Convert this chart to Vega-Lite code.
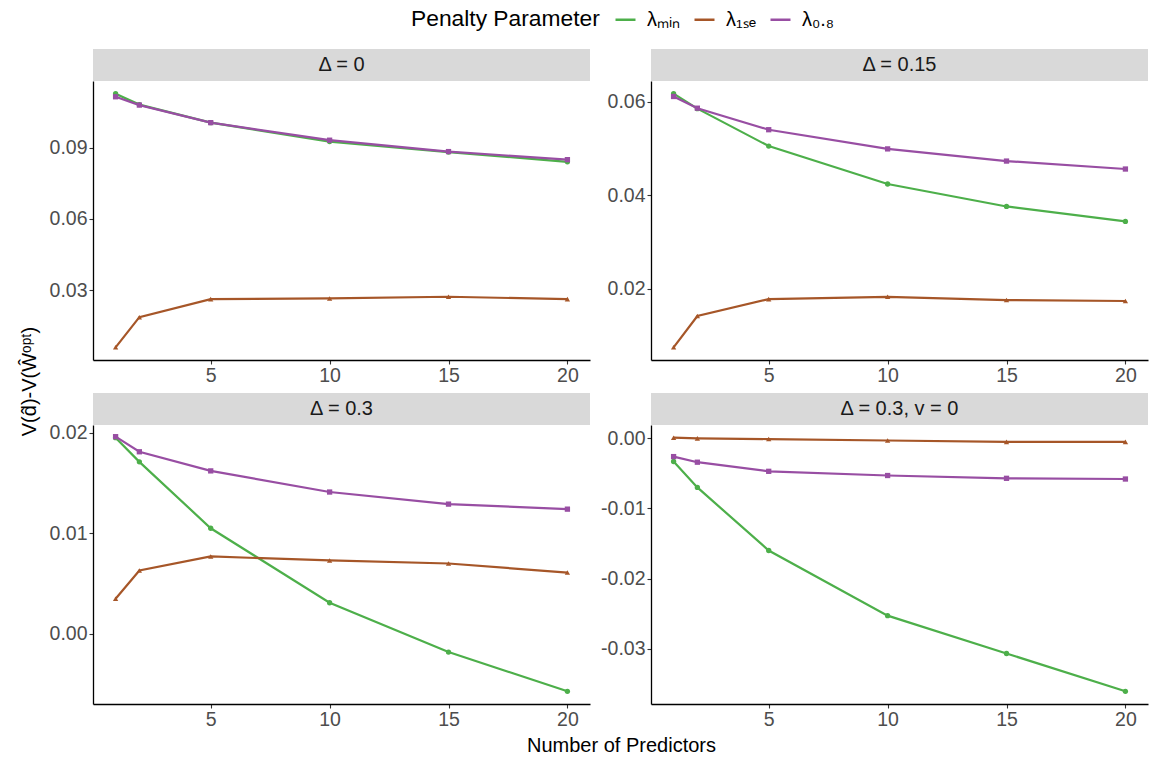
{
  "$schema": "https://vega.github.io/schema/vega-lite/v6.json",
  "padding": {"left": 20, "top": 8, "right": 2, "bottom": 2},
  "config": {
    "font": "Liberation Sans",
    "view": {"stroke": null},
    "axis": {"grid": false, "domainColor": "#000000", "domainWidth": 1.3, "tickColor": "#333333", "tickSize": 4, "tickWidth": 1.1, "labelColor": "#4D4D4D", "labelFontSize": 19.5, "labelPadding": 2, "titleColor": "#000000", "titleFontSize": 20, "titleFontWeight": "normal"},
    "legend": {"titleFontSize": 22.8, "titleFontWeight": "normal", "titleColor": "#000000", "titleLimit": 400, "titlePadding": 14, "labelFontSize": 20, "labelColor": "#000000", "labelOffset": 10, "columnPadding": 8, "symbolStrokeWidth": 2.5, "symbolSize": 400, "symbolType": "stroke"}
  },
  "title": {"text": "V(d̂)-V(Ŵᵒᵖᵗ)", "orient": "left", "anchor": "middle", "fontSize": 20, "fontWeight": "normal", "color": "#000000", "offset": 9},
  "datasets": {
    "d": [
      {"panel": "Δ = 0", "x": 1, "method": "λₘᵢₙ", "v": 0.1128},
      {"panel": "Δ = 0", "x": 2, "method": "λₘᵢₙ", "v": 0.1082},
      {"panel": "Δ = 0", "x": 5, "method": "λₘᵢₙ", "v": 0.1006},
      {"panel": "Δ = 0", "x": 10, "method": "λₘᵢₙ", "v": 0.0926},
      {"panel": "Δ = 0", "x": 15, "method": "λₘᵢₙ", "v": 0.0882},
      {"panel": "Δ = 0", "x": 20, "method": "λₘᵢₙ", "v": 0.0841},
      {"panel": "Δ = 0", "x": 1, "method": "λ₁ₛₑ", "v": 0.0059},
      {"panel": "Δ = 0", "x": 2, "method": "λ₁ₛₑ", "v": 0.0186},
      {"panel": "Δ = 0", "x": 5, "method": "λ₁ₛₑ", "v": 0.0262},
      {"panel": "Δ = 0", "x": 10, "method": "λ₁ₛₑ", "v": 0.0265},
      {"panel": "Δ = 0", "x": 15, "method": "λ₁ₛₑ", "v": 0.0272},
      {"panel": "Δ = 0", "x": 20, "method": "λ₁ₛₑ", "v": 0.0262},
      {"panel": "Δ = 0", "x": 1, "method": "λ₀.₈", "v": 0.1115},
      {"panel": "Δ = 0", "x": 2, "method": "λ₀.₈", "v": 0.1080},
      {"panel": "Δ = 0", "x": 5, "method": "λ₀.₈", "v": 0.1006},
      {"panel": "Δ = 0", "x": 10, "method": "λ₀.₈", "v": 0.0932},
      {"panel": "Δ = 0", "x": 15, "method": "λ₀.₈", "v": 0.0884},
      {"panel": "Δ = 0", "x": 20, "method": "λ₀.₈", "v": 0.0850},
      {"panel": "Δ = 0.15", "x": 1, "method": "λₘᵢₙ", "v": 0.0617},
      {"panel": "Δ = 0.15", "x": 2, "method": "λₘᵢₙ", "v": 0.0585},
      {"panel": "Δ = 0.15", "x": 5, "method": "λₘᵢₙ", "v": 0.0505},
      {"panel": "Δ = 0.15", "x": 10, "method": "λₘᵢₙ", "v": 0.0424},
      {"panel": "Δ = 0.15", "x": 15, "method": "λₘᵢₙ", "v": 0.0376},
      {"panel": "Δ = 0.15", "x": 20, "method": "λₘᵢₙ", "v": 0.0344},
      {"panel": "Δ = 0.15", "x": 1, "method": "λ₁ₛₑ", "v": 0.0075},
      {"panel": "Δ = 0.15", "x": 2, "method": "λ₁ₛₑ", "v": 0.0142},
      {"panel": "Δ = 0.15", "x": 5, "method": "λ₁ₛₑ", "v": 0.0178},
      {"panel": "Δ = 0.15", "x": 10, "method": "λ₁ₛₑ", "v": 0.0183},
      {"panel": "Δ = 0.15", "x": 15, "method": "λ₁ₛₑ", "v": 0.0176},
      {"panel": "Δ = 0.15", "x": 20, "method": "λ₁ₛₑ", "v": 0.0174},
      {"panel": "Δ = 0.15", "x": 1, "method": "λ₀.₈", "v": 0.0611},
      {"panel": "Δ = 0.15", "x": 2, "method": "λ₀.₈", "v": 0.0586},
      {"panel": "Δ = 0.15", "x": 5, "method": "λ₀.₈", "v": 0.0540},
      {"panel": "Δ = 0.15", "x": 10, "method": "λ₀.₈", "v": 0.0499},
      {"panel": "Δ = 0.15", "x": 15, "method": "λ₀.₈", "v": 0.0473},
      {"panel": "Δ = 0.15", "x": 20, "method": "λ₀.₈", "v": 0.0456},
      {"panel": "Δ = 0.3", "x": 1, "method": "λₘᵢₙ", "v": 0.0195},
      {"panel": "Δ = 0.3", "x": 2, "method": "λₘᵢₙ", "v": 0.0171},
      {"panel": "Δ = 0.3", "x": 5, "method": "λₘᵢₙ", "v": 0.0105},
      {"panel": "Δ = 0.3", "x": 10, "method": "λₘᵢₙ", "v": 0.0031},
      {"panel": "Δ = 0.3", "x": 15, "method": "λₘᵢₙ", "v": -0.0018},
      {"panel": "Δ = 0.3", "x": 20, "method": "λₘᵢₙ", "v": -0.0057},
      {"panel": "Δ = 0.3", "x": 1, "method": "λ₁ₛₑ", "v": 0.0035},
      {"panel": "Δ = 0.3", "x": 2, "method": "λ₁ₛₑ", "v": 0.0063},
      {"panel": "Δ = 0.3", "x": 5, "method": "λ₁ₛₑ", "v": 0.0077},
      {"panel": "Δ = 0.3", "x": 10, "method": "λ₁ₛₑ", "v": 0.0073},
      {"panel": "Δ = 0.3", "x": 15, "method": "λ₁ₛₑ", "v": 0.0070},
      {"panel": "Δ = 0.3", "x": 20, "method": "λ₁ₛₑ", "v": 0.0061},
      {"panel": "Δ = 0.3", "x": 1, "method": "λ₀.₈", "v": 0.0196},
      {"panel": "Δ = 0.3", "x": 2, "method": "λ₀.₈", "v": 0.0181},
      {"panel": "Δ = 0.3", "x": 5, "method": "λ₀.₈", "v": 0.0162},
      {"panel": "Δ = 0.3", "x": 10, "method": "λ₀.₈", "v": 0.0141},
      {"panel": "Δ = 0.3", "x": 15, "method": "λ₀.₈", "v": 0.0129},
      {"panel": "Δ = 0.3", "x": 20, "method": "λ₀.₈", "v": 0.0124},
      {"panel": "Δ = 0.3, v = 0", "x": 1, "method": "λₘᵢₙ", "v": -0.0033},
      {"panel": "Δ = 0.3, v = 0", "x": 2, "method": "λₘᵢₙ", "v": -0.0070},
      {"panel": "Δ = 0.3, v = 0", "x": 5, "method": "λₘᵢₙ", "v": -0.0160},
      {"panel": "Δ = 0.3, v = 0", "x": 10, "method": "λₘᵢₙ", "v": -0.0253},
      {"panel": "Δ = 0.3, v = 0", "x": 15, "method": "λₘᵢₙ", "v": -0.0307},
      {"panel": "Δ = 0.3, v = 0", "x": 20, "method": "λₘᵢₙ", "v": -0.0361},
      {"panel": "Δ = 0.3, v = 0", "x": 1, "method": "λ₁ₛₑ", "v": 0.0001},
      {"panel": "Δ = 0.3, v = 0", "x": 2, "method": "λ₁ₛₑ", "v": 0.0000},
      {"panel": "Δ = 0.3, v = 0", "x": 5, "method": "λ₁ₛₑ", "v": -0.0001},
      {"panel": "Δ = 0.3, v = 0", "x": 10, "method": "λ₁ₛₑ", "v": -0.0003},
      {"panel": "Δ = 0.3, v = 0", "x": 15, "method": "λ₁ₛₑ", "v": -0.0005},
      {"panel": "Δ = 0.3, v = 0", "x": 20, "method": "λ₁ₛₑ", "v": -0.0005},
      {"panel": "Δ = 0.3, v = 0", "x": 1, "method": "λ₀.₈", "v": -0.0026},
      {"panel": "Δ = 0.3, v = 0", "x": 2, "method": "λ₀.₈", "v": -0.0034},
      {"panel": "Δ = 0.3, v = 0", "x": 5, "method": "λ₀.₈", "v": -0.0047},
      {"panel": "Δ = 0.3, v = 0", "x": 10, "method": "λ₀.₈", "v": -0.0053},
      {"panel": "Δ = 0.3, v = 0", "x": 15, "method": "λ₀.₈", "v": -0.0057},
      {"panel": "Δ = 0.3, v = 0", "x": 20, "method": "λ₀.₈", "v": -0.0058}
    ],
    "strips": [
      {"panel": "Δ = 0"},
      {"panel": "Δ = 0.15"},
      {"panel": "Δ = 0.3"},
      {"panel": "Δ = 0.3, v = 0"}
    ]
  },
  "spacing": 8,
  "vconcat": [
    {
      "columns": 2,
      "bounds": "flush",
      "spacing": {"row": 0, "column": 61},
      "concat": [
        {
          "width": 497, "height": 32,
          "view": {"fill": "#D9D9D9", "stroke": null},
          "data": {"name": "strips"},
          "transform": [{"filter": "datum.panel === 'Δ = 0'"}],
          "mark": {"type": "text", "fontSize": 20, "color": "#1A1A1A", "baseline": "middle", "align": "center"},
          "encoding": {"text": {"field": "panel", "type": "nominal"}}
        },
        {
          "width": 497, "height": 32,
          "view": {"fill": "#D9D9D9", "stroke": null},
          "data": {"name": "strips"},
          "transform": [{"filter": "datum.panel === 'Δ = 0.15'"}],
          "mark": {"type": "text", "fontSize": 20, "color": "#1A1A1A", "baseline": "middle", "align": "center"},
          "encoding": {"text": {"field": "panel", "type": "nominal"}}
        },
        {
          "width": 497, "height": 279,
          "data": {"name": "d"},
          "transform": [{"filter": "datum.panel === 'Δ = 0'"}],
          "encoding": {
            "x": {"field": "x", "type": "quantitative", "scale": {"domain": [0.05, 20.95], "nice": false, "zero": false}, "axis": {"values": [5, 10, 15, 20], "title": null}},
            "y": {"field": "v", "type": "quantitative", "scale": {"domain": [0.00055, 0.11815], "nice": false, "zero": false}, "axis": {"values": [0.03, 0.06, 0.09], "labelExpr": "replace(format(datum.value, '.2f'), '−', '-')", "title": null}}
          },
          "layer": [
            {"mark": {"type": "line", "strokeWidth": 2.2}, "encoding": {"color": {"field": "method", "type": "nominal", "scale": {"domain": ["λₘᵢₙ", "λ₁ₛₑ", "λ₀.₈"], "range": ["#4DAF4A", "#A65628", "#984EA3"]}, "legend": {"title": "Penalty Parameter", "orient": "none", "legendX": 318, "legendY": -41, "direction": "horizontal", "titleOrient": "left", "symbolType": "stroke"}}}},
            {"transform": [{"filter": "datum.method === 'λₘᵢₙ'"}], "mark": {"type": "point", "filled": true, "size": 28, "opacity": 1, "shape": "circle", "color": "#4DAF4A"}},
            {"transform": [{"filter": "datum.method === 'λ₁ₛₑ'"}], "mark": {"type": "point", "filled": true, "size": 28, "opacity": 1, "shape": "triangle-up", "color": "#A65628"}},
            {"transform": [{"filter": "datum.method === 'λ₀.₈'"}], "mark": {"type": "point", "filled": true, "size": 28, "opacity": 1, "shape": "square", "color": "#984EA3"}}
          ]
        },
        {
          "width": 497, "height": 279,
          "data": {"name": "d"},
          "transform": [{"filter": "datum.panel === 'Δ = 0.15'"}],
          "encoding": {
            "x": {"field": "x", "type": "quantitative", "scale": {"domain": [0.05, 20.95], "nice": false, "zero": false}, "axis": {"values": [5, 10, 15, 20], "title": null}},
            "y": {"field": "v", "type": "quantitative", "scale": {"domain": [0.00479, 0.06441], "nice": false, "zero": false}, "axis": {"values": [0.02, 0.04, 0.06], "labelExpr": "replace(format(datum.value, '.2f'), '−', '-')", "title": null}}
          },
          "layer": [
            {"mark": {"type": "line", "strokeWidth": 2.2}, "encoding": {"color": {"field": "method", "type": "nominal"}}},
            {"transform": [{"filter": "datum.method === 'λₘᵢₙ'"}], "mark": {"type": "point", "filled": true, "size": 28, "opacity": 1, "shape": "circle", "color": "#4DAF4A"}},
            {"transform": [{"filter": "datum.method === 'λ₁ₛₑ'"}], "mark": {"type": "point", "filled": true, "size": 28, "opacity": 1, "shape": "triangle-up", "color": "#A65628"}},
            {"transform": [{"filter": "datum.method === 'λ₀.₈'"}], "mark": {"type": "point", "filled": true, "size": 28, "opacity": 1, "shape": "square", "color": "#984EA3"}}
          ]
        }
      ]
    },
    {
      "columns": 2,
      "bounds": "flush",
      "spacing": {"row": 0, "column": 61},
      "concat": [
        {
          "width": 497, "height": 32,
          "view": {"fill": "#D9D9D9", "stroke": null},
          "data": {"name": "strips"},
          "transform": [{"filter": "datum.panel === 'Δ = 0.3'"}],
          "mark": {"type": "text", "fontSize": 20, "color": "#1A1A1A", "baseline": "middle", "align": "center"},
          "encoding": {"text": {"field": "panel", "type": "nominal"}}
        },
        {
          "width": 497, "height": 32,
          "view": {"fill": "#D9D9D9", "stroke": null},
          "data": {"name": "strips"},
          "transform": [{"filter": "datum.panel === 'Δ = 0.3, v = 0'"}],
          "mark": {"type": "text", "fontSize": 20, "color": "#1A1A1A", "baseline": "middle", "align": "center"},
          "encoding": {"text": {"field": "panel", "type": "nominal"}}
        },
        {
          "width": 497, "height": 279,
          "data": {"name": "d"},
          "transform": [{"filter": "datum.panel === 'Δ = 0.3'"}],
          "encoding": {
            "x": {"field": "x", "type": "quantitative", "scale": {"domain": [0.05, 20.95], "nice": false, "zero": false}, "axis": {"values": [5, 10, 15, 20], "title": "Number of Predictors", "titleX": 528, "titleY": 47, "titleAlign": "center", "titleBaseline": "alphabetic"}},
            "y": {"field": "v", "type": "quantitative", "scale": {"domain": [-0.00696, 0.02076], "nice": false, "zero": false}, "axis": {"values": [0.0, 0.01, 0.02], "labelExpr": "replace(format(datum.value, '.2f'), '−', '-')", "title": null}}
          },
          "layer": [
            {"mark": {"type": "line", "strokeWidth": 2.2}, "encoding": {"color": {"field": "method", "type": "nominal"}}},
            {"transform": [{"filter": "datum.method === 'λₘᵢₙ'"}], "mark": {"type": "point", "filled": true, "size": 28, "opacity": 1, "shape": "circle", "color": "#4DAF4A"}},
            {"transform": [{"filter": "datum.method === 'λ₁ₛₑ'"}], "mark": {"type": "point", "filled": true, "size": 28, "opacity": 1, "shape": "triangle-up", "color": "#A65628"}},
            {"transform": [{"filter": "datum.method === 'λ₀.₈'"}], "mark": {"type": "point", "filled": true, "size": 28, "opacity": 1, "shape": "square", "color": "#984EA3"}}
          ]
        },
        {
          "width": 497, "height": 279,
          "data": {"name": "d"},
          "transform": [{"filter": "datum.panel === 'Δ = 0.3, v = 0'"}],
          "encoding": {
            "x": {"field": "x", "type": "quantitative", "scale": {"domain": [0.05, 20.95], "nice": false, "zero": false}, "axis": {"values": [5, 10, 15, 20], "title": null}},
            "y": {"field": "v", "type": "quantitative", "scale": {"domain": [-0.03791, 0.00191], "nice": false, "zero": false}, "axis": {"values": [-0.03, -0.02, -0.01, 0.0], "labelExpr": "replace(format(datum.value, '.2f'), '−', '-')", "title": null}}
          },
          "layer": [
            {"mark": {"type": "line", "strokeWidth": 2.2}, "encoding": {"color": {"field": "method", "type": "nominal"}}},
            {"transform": [{"filter": "datum.method === 'λₘᵢₙ'"}], "mark": {"type": "point", "filled": true, "size": 28, "opacity": 1, "shape": "circle", "color": "#4DAF4A"}},
            {"transform": [{"filter": "datum.method === 'λ₁ₛₑ'"}], "mark": {"type": "point", "filled": true, "size": 28, "opacity": 1, "shape": "triangle-up", "color": "#A65628"}},
            {"transform": [{"filter": "datum.method === 'λ₀.₈'"}], "mark": {"type": "point", "filled": true, "size": 28, "opacity": 1, "shape": "square", "color": "#984EA3"}}
          ]
        }
      ]
    }
  ]
}
